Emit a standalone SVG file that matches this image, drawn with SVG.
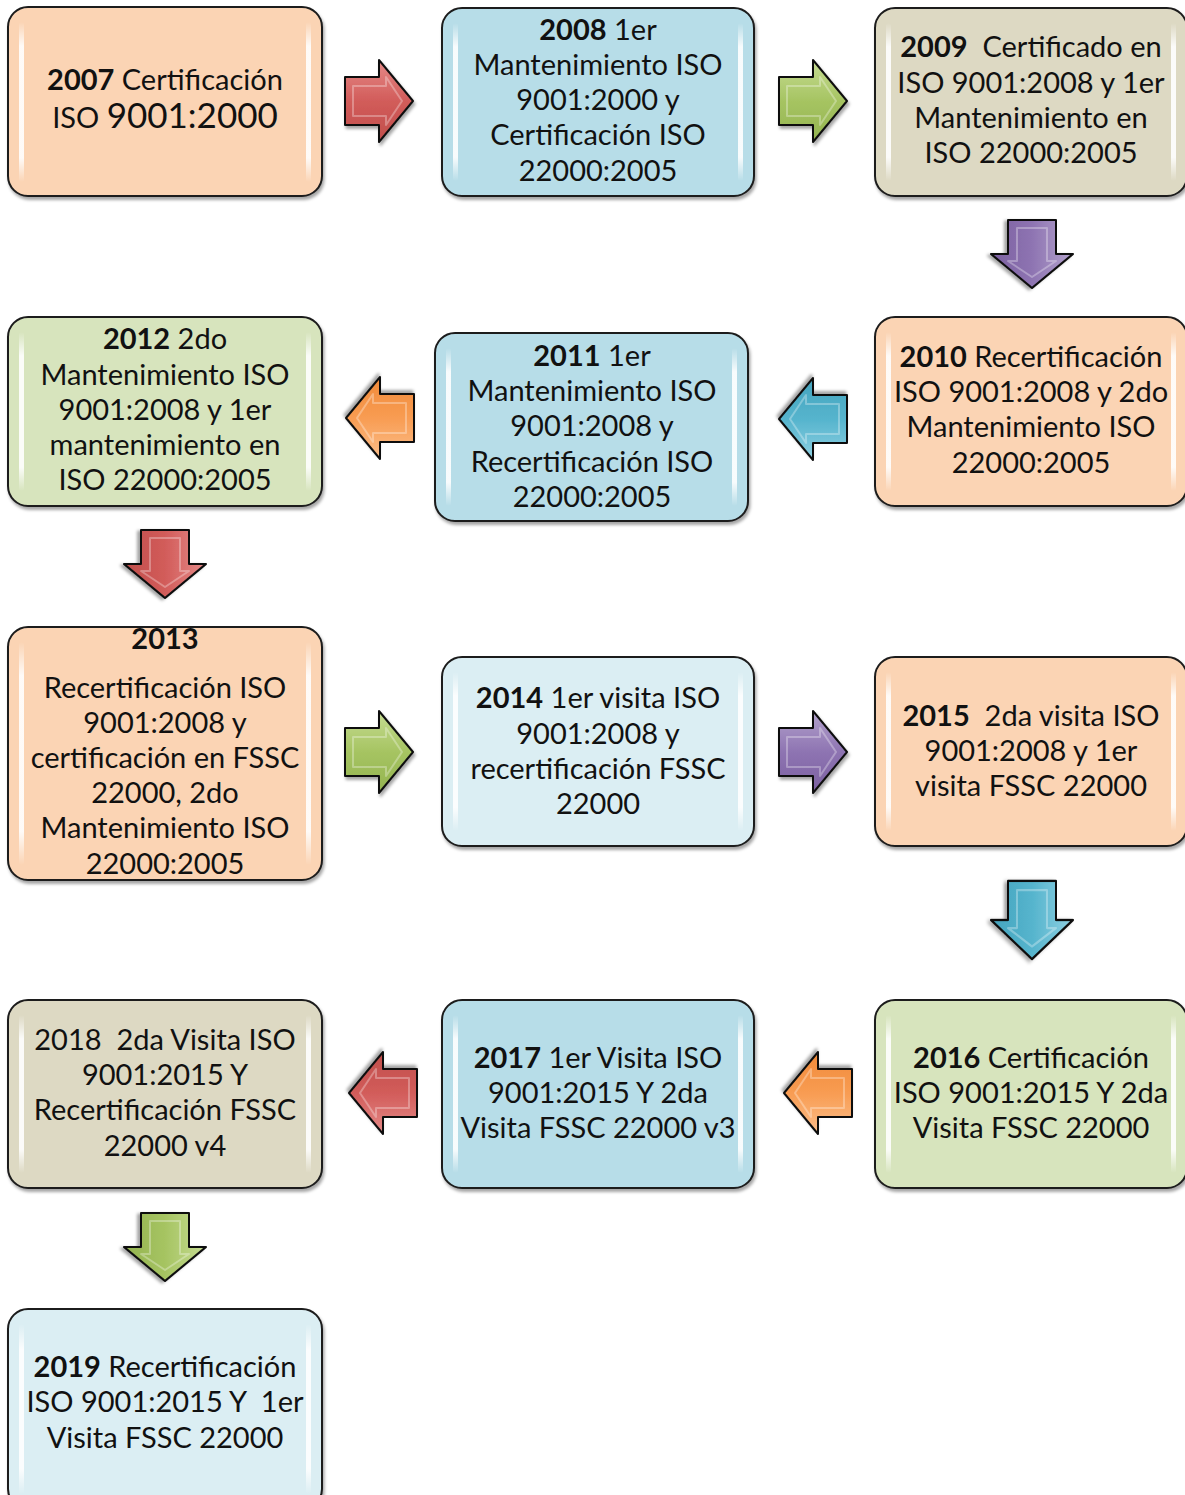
<svg xmlns="http://www.w3.org/2000/svg" width="1185" height="1495" viewBox="0 0 1185 1495">
<style>
.box{stroke:#1c1c1c;stroke-width:2;filter:url(#shadow)}
.peach{fill:#FBD4B4}.blue{fill:#B7DDE8}.tan{fill:#DDD9C3}.green{fill:#D7E4BD}.lblue{fill:#DBEEF3}
.hl{fill:url(#hlg)}
text{font-family:Lato,"Open Sans","Liberation Sans",sans-serif;font-size:29px;fill:#111;text-anchor:middle;white-space:pre}
.b{font-weight:bold}
.arr{stroke:#111;stroke-width:2;stroke-linejoin:round;filter:url(#shadow)}
.bev{fill:none;stroke:#fff;stroke-opacity:0.3;stroke-width:2;stroke-linejoin:round}
</style>
<defs>
<filter id="shadow" x="-10%" y="-10%" width="125%" height="125%">
<feDropShadow dx="1.5" dy="3" stdDeviation="1.8" flood-color="#000" flood-opacity="0.35"/>
</filter>
<linearGradient id="hlg" x1="0" y1="0" x2="0" y2="1">
<stop offset="0" stop-color="#fff" stop-opacity="0"/>
<stop offset="0.15" stop-color="#fff" stop-opacity="0.9"/>
<stop offset="0.85" stop-color="#fff" stop-opacity="0.9"/>
<stop offset="1" stop-color="#fff" stop-opacity="0"/>
</linearGradient>
<linearGradient id="gRed" x1="0" y1="0" x2="0" y2="1"><stop offset="0" stop-color="#E58A88"/><stop offset="0.5" stop-color="#D25C5A"/><stop offset="1" stop-color="#C04E4B"/></linearGradient>
<linearGradient id="gGreen" x1="0" y1="0" x2="0" y2="1"><stop offset="0" stop-color="#C6DC92"/><stop offset="0.5" stop-color="#A6C462"/><stop offset="1" stop-color="#93B34F"/></linearGradient>
<linearGradient id="gPurple" x1="0" y1="0" x2="0" y2="1"><stop offset="0" stop-color="#B3A2CC"/><stop offset="0.5" stop-color="#8E74B2"/><stop offset="1" stop-color="#7B60A0"/></linearGradient>
<linearGradient id="gOrange" x1="0" y1="0" x2="0" y2="1"><stop offset="0" stop-color="#FBBE8A"/><stop offset="0.5" stop-color="#F89C52"/><stop offset="1" stop-color="#F08A3A"/></linearGradient>
<linearGradient id="gBlue" x1="0" y1="0" x2="0" y2="1"><stop offset="0" stop-color="#8ED0E2"/><stop offset="0.5" stop-color="#55B4CD"/><stop offset="1" stop-color="#45A4BE"/></linearGradient>
<path id="arrowShape" d="M-34,-24 H0 V-41 L34,0 L0,41 V24 H-34 Z"/>
<path id="arrowBevel" d="M-26,-15 H7 V-24 L23,0 L7,24 V15 H-26 Z"/>
</defs>

<g id="connectors">
<g transform="translate(379,101)"><use href="#arrowShape" class="arr" fill="url(#gRed)"/><use href="#arrowBevel" class="bev"/></g>
<g transform="translate(813,101)"><use href="#arrowShape" class="arr" fill="url(#gGreen)"/><use href="#arrowBevel" class="bev"/></g>
<g transform="translate(1032,254) rotate(90)"><use href="#arrowShape" class="arr" fill="url(#gPurple)"/><use href="#arrowBevel" class="bev"/></g>
<g transform="translate(813,419) rotate(180)"><use href="#arrowShape" class="arr" fill="url(#gBlue)"/><use href="#arrowBevel" class="bev"/></g>
<g transform="translate(380,418) rotate(180)"><use href="#arrowShape" class="arr" fill="url(#gOrange)"/><use href="#arrowBevel" class="bev"/></g>
<g transform="translate(165,564) rotate(90)"><use href="#arrowShape" class="arr" fill="url(#gRed)"/><use href="#arrowBevel" class="bev"/></g>
<g transform="translate(379,752)"><use href="#arrowShape" class="arr" fill="url(#gGreen)"/><use href="#arrowBevel" class="bev"/></g>
<g transform="translate(813,752)"><use href="#arrowShape" class="arr" fill="url(#gPurple)"/><use href="#arrowBevel" class="bev"/></g>
<g transform="translate(1032,920) rotate(90) scale(1.15,1)"><use href="#arrowShape" class="arr" fill="url(#gBlue)"/><use href="#arrowBevel" class="bev"/></g>
<g transform="translate(818,1093) rotate(180)"><use href="#arrowShape" class="arr" fill="url(#gOrange)"/><use href="#arrowBevel" class="bev"/></g>
<g transform="translate(383,1093) rotate(180)"><use href="#arrowShape" class="arr" fill="url(#gRed)"/><use href="#arrowBevel" class="bev"/></g>
<g transform="translate(165,1247) rotate(90)"><use href="#arrowShape" class="arr" fill="url(#gGreen)"/><use href="#arrowBevel" class="bev"/></g>
</g>

<g id="n2007">
<rect class="box peach" x="8" y="7" width="314" height="189" rx="20"/>
<rect class="hl" x="19" y="22" width="5" height="160" rx="2.5"/><rect class="hl" x="306" y="22" width="5" height="160" rx="2.5"/>
<text x="165" y="90"><tspan class="b">2007</tspan> Certificación</text>
<text x="165" y="128">ISO <tspan style="font-size:35px">9001:2000</tspan></text>
</g>

<g id="n2008">
<rect class="box blue" x="442" y="8" width="312" height="188" rx="20"/>
<rect class="hl" x="453" y="23" width="5" height="158" rx="2.5"/><rect class="hl" x="738" y="23" width="5" height="158" rx="2.5"/>
<text x="598" y="40"><tspan class="b">2008</tspan> 1er</text>
<text x="598" y="75">Mantenimiento ISO</text>
<text x="598" y="110">9001:2000 y</text>
<text x="598" y="145">Certificación ISO</text>
<text x="598" y="181">22000:2005</text>
</g>

<g id="n2009">
<rect class="box tan" x="875" y="8" width="312" height="188" rx="20"/>
<rect class="hl" x="886" y="23" width="5" height="158" rx="2.5"/><rect class="hl" x="1171" y="23" width="5" height="158" rx="2.5"/>
<text x="1031" y="57"><tspan class="b">2009</tspan>  Certificado en</text>
<text x="1031" y="93">ISO 9001:2008 y 1er</text>
<text x="1031" y="128">Mantenimiento en</text>
<text x="1031" y="163">ISO 22000:2005</text>
</g>

<g id="n2010">
<rect class="box peach" x="875" y="317" width="312" height="189" rx="20"/>
<rect class="hl" x="886" y="332" width="5" height="159" rx="2.5"/><rect class="hl" x="1171" y="332" width="5" height="159" rx="2.5"/>
<text x="1031" y="367"><tspan class="b">2010</tspan> Recertificación</text>
<text x="1031" y="402">ISO 9001:2008 y 2do</text>
<text x="1031" y="437">Mantenimiento ISO</text>
<text x="1031" y="473">22000:2005</text>
</g>

<g id="n2011">
<rect class="box blue" x="435" y="333" width="313" height="188" rx="20"/>
<rect class="hl" x="446" y="348" width="5" height="158" rx="2.5"/><rect class="hl" x="732" y="348" width="5" height="158" rx="2.5"/>
<text x="592" y="366"><tspan class="b">2011</tspan> 1er</text>
<text x="592" y="401">Mantenimiento ISO</text>
<text x="592" y="436">9001:2008 y</text>
<text x="592" y="472">Recertificación ISO</text>
<text x="592" y="507">22000:2005</text>
</g>

<g id="n2012">
<rect class="box green" x="8" y="317" width="314" height="189" rx="20"/>
<rect class="hl" x="19" y="332" width="5" height="159" rx="2.5"/><rect class="hl" x="306" y="332" width="5" height="159" rx="2.5"/>
<text x="165" y="349"><tspan class="b">2012</tspan> 2do</text>
<text x="165" y="385">Mantenimiento ISO</text>
<text x="165" y="420">9001:2008 y 1er</text>
<text x="165" y="455">mantenimiento en</text>
<text x="165" y="490">ISO 22000:2005</text>
</g>

<g id="n2013">
<rect class="box peach" x="8" y="627" width="314" height="253" rx="20"/>
<rect class="hl" x="19" y="642" width="5" height="223" rx="2.5"/><rect class="hl" x="306" y="642" width="5" height="223" rx="2.5"/>
<text x="165" y="649" class="b">2013</text>
<text x="165" y="698">Recertificación ISO</text>
<text x="165" y="733">9001:2008 y</text>
<text x="165" y="768">certificación en FSSC</text>
<text x="165" y="803">22000, 2do</text>
<text x="165" y="838">Mantenimiento ISO</text>
<text x="165" y="874">22000:2005</text>
</g>

<g id="n2014">
<rect class="box lblue" x="442" y="657" width="312" height="189" rx="20"/>
<rect class="hl" x="453" y="672" width="5" height="159" rx="2.5"/><rect class="hl" x="738" y="672" width="5" height="159" rx="2.5"/>
<text x="598" y="708"><tspan class="b">2014</tspan> 1er visita ISO</text>
<text x="598" y="744">9001:2008 y</text>
<text x="598" y="779">recertificación FSSC</text>
<text x="598" y="814">22000</text>
</g>

<g id="n2015">
<rect class="box peach" x="875" y="657" width="312" height="189" rx="20"/>
<rect class="hl" x="886" y="672" width="5" height="159" rx="2.5"/><rect class="hl" x="1171" y="672" width="5" height="159" rx="2.5"/>
<text x="1031" y="726"><tspan class="b">2015</tspan>  2da visita ISO</text>
<text x="1031" y="761">9001:2008 y 1er</text>
<text x="1031" y="796">visita FSSC 22000</text>
</g>

<g id="n2016">
<rect class="box green" x="875" y="1000" width="312" height="188" rx="20"/>
<rect class="hl" x="886" y="1015" width="5" height="158" rx="2.5"/><rect class="hl" x="1171" y="1015" width="5" height="158" rx="2.5"/>
<text x="1031" y="1068"><tspan class="b">2016</tspan> Certificación</text>
<text x="1031" y="1103">ISO 9001:2015 Y 2da</text>
<text x="1031" y="1138">Visita FSSC 22000</text>
</g>

<g id="n2017">
<rect class="box blue" x="442" y="1000" width="312" height="188" rx="20"/>
<rect class="hl" x="453" y="1015" width="5" height="158" rx="2.5"/><rect class="hl" x="738" y="1015" width="5" height="158" rx="2.5"/>
<text x="598" y="1068"><tspan class="b">2017</tspan> 1er Visita ISO</text>
<text x="598" y="1103">9001:2015 Y 2da</text>
<text x="598" y="1138">Visita FSSC 22000 v3</text>
</g>

<g id="n2018">
<rect class="box tan" x="8" y="1000" width="314" height="188" rx="20"/>
<rect class="hl" x="19" y="1015" width="5" height="158" rx="2.5"/><rect class="hl" x="306" y="1015" width="5" height="158" rx="2.5"/>
<text x="165" y="1050">2018  2da Visita ISO</text>
<text x="165" y="1085">9001:2015 Y</text>
<text x="165" y="1120">Recertificación FSSC</text>
<text x="165" y="1156">22000 v4</text>
</g>

<g id="n2019">
<rect class="box lblue" x="8" y="1309" width="314" height="200" rx="20"/>
<rect class="hl" x="19" y="1324" width="5" height="170" rx="2.5"/><rect class="hl" x="306" y="1324" width="5" height="170" rx="2.5"/>
<text x="165" y="1377"><tspan class="b">2019</tspan> Recertificación</text>
<text x="165" y="1412">ISO 9001:2015 Y  1er</text>
<text x="165" y="1448">Visita FSSC 22000</text>
</g>
</svg>
